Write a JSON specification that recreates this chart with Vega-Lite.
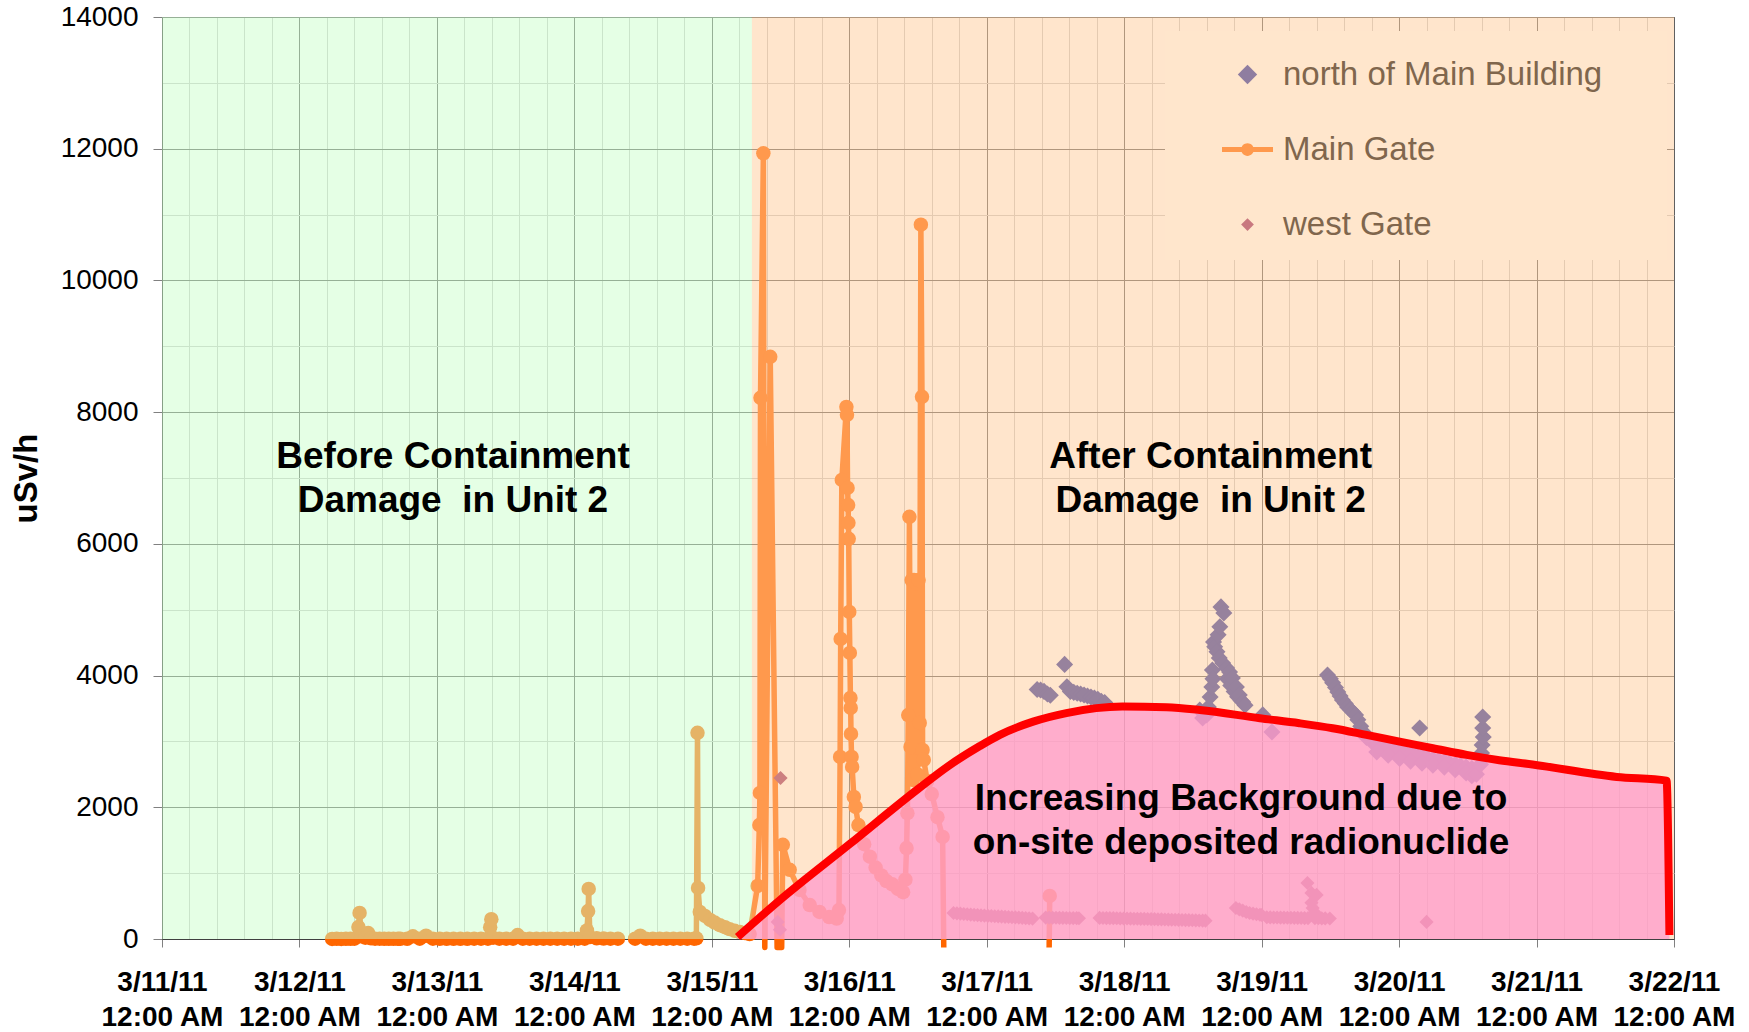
{
  "$schema": "https://vega.github.io/schema/vega-lite/v6.json",
  "width": 1512,
  "height": 922,
  "autosize": {"type": "none"},
  "padding": {"left": 162, "top": 17, "right": 75, "bottom": 93},
  "background": "#ffffff",
  "config": {
    "font": "Liberation Sans",
    "view": {"stroke": "#808080", "strokeWidth": 1},
    "legend": {
      "orient": "none",
      "legendX": 1003,
      "legendY": 14,
      "padding": 18,
      "fillColor": "#ffe6cc",
      "labelFont": "Liberation Sans",
      "labelFontSize": 33,
      "labelColor": "#80664d",
      "labelOffset": 10,
      "rowPadding": 32,
      "symbolOffset": 39,
      "labelLimit": 0,
      "symbolStrokeWidth": 0,
      "symbolOpacity": 1
    }
  },
  "datasets": {
    "readings": [
      {"series": "Main Gate", "seg": "a", "hour": 29.7, "usvh": 1},
      {"series": "Main Gate", "seg": "a", "hour": 30.5, "usvh": 2},
      {"series": "Main Gate", "seg": "a", "hour": 31.3, "usvh": 1},
      {"series": "Main Gate", "seg": "a", "hour": 32.1, "usvh": 3},
      {"series": "Main Gate", "seg": "a", "hour": 32.9, "usvh": 2},
      {"series": "Main Gate", "seg": "a", "hour": 33.6, "usvh": 4},
      {"series": "Main Gate", "seg": "a", "hour": 34.3, "usvh": 182},
      {"series": "Main Gate", "seg": "a", "hour": 34.5, "usvh": 395},
      {"series": "Main Gate", "seg": "a", "hour": 34.8, "usvh": 40},
      {"series": "Main Gate", "seg": "a", "hour": 35.5, "usvh": 20},
      {"series": "Main Gate", "seg": "a", "hour": 36.0, "usvh": 90},
      {"series": "Main Gate", "seg": "a", "hour": 36.5, "usvh": 10},
      {"series": "Main Gate", "seg": "a", "hour": 37.2, "usvh": 5},
      {"series": "Main Gate", "seg": "a", "hour": 38.0, "usvh": 4},
      {"series": "Main Gate", "seg": "a", "hour": 38.8, "usvh": 3},
      {"series": "Main Gate", "seg": "a", "hour": 39.6, "usvh": 3},
      {"series": "Main Gate", "seg": "a", "hour": 40.4, "usvh": 2},
      {"series": "Main Gate", "seg": "a", "hour": 41.2, "usvh": 2},
      {"series": "Main Gate", "seg": "a", "hour": 41.6, "usvh": 2},
      {"series": "Main Gate", "seg": "b", "hour": 42.8, "usvh": 2},
      {"series": "Main Gate", "seg": "b", "hour": 43.8, "usvh": 40},
      {"series": "Main Gate", "seg": "b", "hour": 45.0, "usvh": 4},
      {"series": "Main Gate", "seg": "b", "hour": 46.1, "usvh": 50},
      {"series": "Main Gate", "seg": "b", "hour": 47.3, "usvh": 4},
      {"series": "Main Gate", "seg": "b", "hour": 48.5, "usvh": 3},
      {"series": "Main Gate", "seg": "b", "hour": 49.7, "usvh": 3},
      {"series": "Main Gate", "seg": "b", "hour": 50.9, "usvh": 3},
      {"series": "Main Gate", "seg": "b", "hour": 52.1, "usvh": 3},
      {"series": "Main Gate", "seg": "b", "hour": 53.3, "usvh": 3},
      {"series": "Main Gate", "seg": "b", "hour": 54.5, "usvh": 4},
      {"series": "Main Gate", "seg": "b", "hour": 55.7, "usvh": 4},
      {"series": "Main Gate", "seg": "b", "hour": 56.9, "usvh": 5},
      {"series": "Main Gate", "seg": "b", "hour": 57.3, "usvh": 180},
      {"series": "Main Gate", "seg": "b", "hour": 57.5, "usvh": 300},
      {"series": "Main Gate", "seg": "b", "hour": 57.8, "usvh": 20},
      {"series": "Main Gate", "seg": "b", "hour": 58.9, "usvh": 5},
      {"series": "Main Gate", "seg": "b", "hour": 60.1, "usvh": 5},
      {"series": "Main Gate", "seg": "b", "hour": 61.3, "usvh": 5},
      {"series": "Main Gate", "seg": "b", "hour": 62.1, "usvh": 60},
      {"series": "Main Gate", "seg": "b", "hour": 63.0, "usvh": 5},
      {"series": "Main Gate", "seg": "b", "hour": 64.2, "usvh": 5},
      {"series": "Main Gate", "seg": "b", "hour": 65.4, "usvh": 4},
      {"series": "Main Gate", "seg": "b", "hour": 66.6, "usvh": 4},
      {"series": "Main Gate", "seg": "b", "hour": 67.8, "usvh": 4},
      {"series": "Main Gate", "seg": "b", "hour": 69.0, "usvh": 4},
      {"series": "Main Gate", "seg": "b", "hour": 70.2, "usvh": 4},
      {"series": "Main Gate", "seg": "b", "hour": 71.4, "usvh": 4},
      {"series": "Main Gate", "seg": "b", "hour": 72.6, "usvh": 5},
      {"series": "Main Gate", "seg": "b", "hour": 73.8, "usvh": 5},
      {"series": "Main Gate", "seg": "b", "hour": 74.2, "usvh": 130},
      {"series": "Main Gate", "seg": "b", "hour": 74.4, "usvh": 425},
      {"series": "Main Gate", "seg": "b", "hour": 74.5, "usvh": 760},
      {"series": "Main Gate", "seg": "b", "hour": 74.7, "usvh": 30},
      {"series": "Main Gate", "seg": "b", "hour": 75.9, "usvh": 10},
      {"series": "Main Gate", "seg": "b", "hour": 77.1, "usvh": 6},
      {"series": "Main Gate", "seg": "b", "hour": 78.3, "usvh": 5},
      {"series": "Main Gate", "seg": "b", "hour": 79.6, "usvh": 5},
      {"series": "Main Gate", "seg": "c", "hour": 82.6, "usvh": 4},
      {"series": "Main Gate", "seg": "c", "hour": 83.5, "usvh": 50},
      {"series": "Main Gate", "seg": "c", "hour": 84.5, "usvh": 4},
      {"series": "Main Gate", "seg": "c", "hour": 85.7, "usvh": 4},
      {"series": "Main Gate", "seg": "c", "hour": 86.9, "usvh": 4},
      {"series": "Main Gate", "seg": "d", "hour": 88.1, "usvh": 4},
      {"series": "Main Gate", "seg": "d", "hour": 89.3, "usvh": 4},
      {"series": "Main Gate", "seg": "d", "hour": 90.5, "usvh": 4},
      {"series": "Main Gate", "seg": "d", "hour": 91.7, "usvh": 4},
      {"series": "Main Gate", "seg": "d", "hour": 92.9, "usvh": 5},
      {"series": "Main Gate", "seg": "d", "hour": 93.3, "usvh": 10},
      {"series": "Main Gate", "seg": "d", "hour": 93.5, "usvh": 3130},
      {"series": "Main Gate", "seg": "d", "hour": 93.6, "usvh": 775},
      {"series": "Main Gate", "seg": "d", "hour": 93.9, "usvh": 410},
      {"series": "Main Gate", "seg": "d", "hour": 94.8, "usvh": 350},
      {"series": "Main Gate", "seg": "d", "hour": 95.7, "usvh": 290},
      {"series": "Main Gate", "seg": "d", "hour": 96.5, "usvh": 250},
      {"series": "Main Gate", "seg": "d", "hour": 97.4, "usvh": 210},
      {"series": "Main Gate", "seg": "d", "hour": 98.3, "usvh": 180},
      {"series": "Main Gate", "seg": "d", "hour": 99.1, "usvh": 150},
      {"series": "Main Gate", "seg": "d", "hour": 100.0, "usvh": 125},
      {"series": "Main Gate", "seg": "d", "hour": 100.9, "usvh": 105},
      {"series": "Main Gate", "seg": "d", "hour": 101.8, "usvh": 90},
      {"series": "Main Gate", "seg": "d", "hour": 102.6, "usvh": 75},
      {"series": "Main Gate", "seg": "d", "hour": 104.0, "usvh": 805},
      {"series": "Main Gate", "seg": "d", "hour": 104.3, "usvh": 1730},
      {"series": "Main Gate", "seg": "d", "hour": 104.4, "usvh": 2218},
      {"series": "Main Gate", "seg": "d", "hour": 104.5, "usvh": 8217},
      {"series": "Main Gate", "seg": "d", "hour": 105.0, "usvh": 11930},
      {"series": "Main Gate", "seg": "d", "hour": 105.25, "usvh": -130},
      {"series": "Main Gate", "seg": "d", "hour": 106.2, "usvh": 8841},
      {"series": "Main Gate", "seg": "d", "hour": 107.4, "usvh": -130},
      {"series": "Main Gate", "seg": "d", "hour": 108.2, "usvh": -130},
      {"series": "Main Gate", "seg": "d", "hour": 108.4, "usvh": 1430},
      {"series": "Main Gate", "seg": "d", "hour": 109.6, "usvh": 1050},
      {"series": "Main Gate", "seg": "d", "hour": 111.3, "usvh": 745},
      {"series": "Main Gate", "seg": "d", "hour": 113.1, "usvh": 516},
      {"series": "Main Gate", "seg": "d", "hour": 114.8, "usvh": 410},
      {"series": "Main Gate", "seg": "d", "hour": 116.5, "usvh": 334},
      {"series": "Main Gate", "seg": "d", "hour": 117.8, "usvh": 310},
      {"series": "Main Gate", "seg": "d", "hour": 118.2, "usvh": 440},
      {"series": "Main Gate", "seg": "d", "hour": 118.4, "usvh": 2765},
      {"series": "Main Gate", "seg": "d", "hour": 118.5, "usvh": 4557},
      {"series": "Main Gate", "seg": "d", "hour": 118.7, "usvh": 6970},
      {"series": "Main Gate", "seg": "d", "hour": 119.5, "usvh": 8080},
      {"series": "Main Gate", "seg": "d", "hour": 119.6, "usvh": 7960},
      {"series": "Main Gate", "seg": "d", "hour": 119.7, "usvh": 6850},
      {"series": "Main Gate", "seg": "d", "hour": 119.8, "usvh": 6590},
      {"series": "Main Gate", "seg": "d", "hour": 119.85, "usvh": 6320},
      {"series": "Main Gate", "seg": "d", "hour": 119.9, "usvh": 6076},
      {"series": "Main Gate", "seg": "d", "hour": 120.0, "usvh": 4967},
      {"series": "Main Gate", "seg": "d", "hour": 120.1, "usvh": 4344},
      {"series": "Main Gate", "seg": "d", "hour": 120.2, "usvh": 3660},
      {"series": "Main Gate", "seg": "d", "hour": 120.25, "usvh": 3509},
      {"series": "Main Gate", "seg": "d", "hour": 120.3, "usvh": 3114},
      {"series": "Main Gate", "seg": "d", "hour": 120.4, "usvh": 2765},
      {"series": "Main Gate", "seg": "d", "hour": 120.5, "usvh": 2613},
      {"series": "Main Gate", "seg": "d", "hour": 120.8, "usvh": 2157},
      {"series": "Main Gate", "seg": "d", "hour": 121.1, "usvh": 2005},
      {"series": "Main Gate", "seg": "d", "hour": 121.6, "usvh": 1730},
      {"series": "Main Gate", "seg": "d", "hour": 122.6, "usvh": 1440},
      {"series": "Main Gate", "seg": "d", "hour": 123.6, "usvh": 1250},
      {"series": "Main Gate", "seg": "d", "hour": 124.6, "usvh": 1085},
      {"series": "Main Gate", "seg": "d", "hour": 125.6, "usvh": 965},
      {"series": "Main Gate", "seg": "d", "hour": 126.5, "usvh": 880},
      {"series": "Main Gate", "seg": "d", "hour": 127.5, "usvh": 830},
      {"series": "Main Gate", "seg": "d", "hour": 128.5, "usvh": 760},
      {"series": "Main Gate", "seg": "d", "hour": 129.4, "usvh": 710},
      {"series": "Main Gate", "seg": "d", "hour": 129.8, "usvh": 900},
      {"series": "Main Gate", "seg": "d", "hour": 130.0, "usvh": 1380},
      {"series": "Main Gate", "seg": "d", "hour": 130.15, "usvh": 1910},
      {"series": "Main Gate", "seg": "d", "hour": 130.3, "usvh": 3400},
      {"series": "Main Gate", "seg": "d", "hour": 130.5, "usvh": 6410},
      {"series": "Main Gate", "seg": "d", "hour": 130.7, "usvh": 2917},
      {"series": "Main Gate", "seg": "d", "hour": 130.9, "usvh": 5450},
      {"series": "Main Gate", "seg": "d", "hour": 131.1, "usvh": 2415},
      {"series": "Main Gate", "seg": "d", "hour": 131.3, "usvh": 5450},
      {"series": "Main Gate", "seg": "d", "hour": 131.5, "usvh": 2690},
      {"series": "Main Gate", "seg": "d", "hour": 131.7, "usvh": 5400},
      {"series": "Main Gate", "seg": "d", "hour": 131.9, "usvh": 2500},
      {"series": "Main Gate", "seg": "d", "hour": 132.1, "usvh": 5450},
      {"series": "Main Gate", "seg": "d", "hour": 132.3, "usvh": 3280},
      {"series": "Main Gate", "seg": "d", "hour": 132.5, "usvh": 10846},
      {"series": "Main Gate", "seg": "d", "hour": 132.7, "usvh": 8233},
      {"series": "Main Gate", "seg": "d", "hour": 132.8, "usvh": 2870},
      {"series": "Main Gate", "seg": "d", "hour": 133.0, "usvh": 2720},
      {"series": "Main Gate", "seg": "d", "hour": 133.6, "usvh": 2400},
      {"series": "Main Gate", "seg": "d", "hour": 134.4, "usvh": 2200},
      {"series": "Main Gate", "seg": "d", "hour": 135.4, "usvh": 1850},
      {"series": "Main Gate", "seg": "d", "hour": 136.3, "usvh": 1550},
      {"series": "Main Gate", "seg": "d", "hour": 136.5, "usvh": -130},
      {"series": "Main Gate", "seg": "e", "hour": 154.9, "usvh": -130},
      {"series": "Main Gate", "seg": "e", "hour": 155.0, "usvh": 653},

      {"series": "north of Main Building", "hour": 152.8, "usvh": 3790},
      {"series": "north of Main Building", "hour": 153.4, "usvh": 3780},
      {"series": "north of Main Building", "hour": 154.0, "usvh": 3760},
      {"series": "north of Main Building", "hour": 154.6, "usvh": 3720},
      {"series": "north of Main Building", "hour": 155.1, "usvh": 3700},
      {"series": "north of Main Building", "hour": 157.6, "usvh": 4170},
      {"series": "north of Main Building", "hour": 158.0, "usvh": 3830},
      {"series": "north of Main Building", "hour": 158.6, "usvh": 3760},
      {"series": "north of Main Building", "hour": 159.2, "usvh": 3745},
      {"series": "north of Main Building", "hour": 159.8, "usvh": 3730},
      {"series": "north of Main Building", "hour": 160.4, "usvh": 3720},
      {"series": "north of Main Building", "hour": 161.0, "usvh": 3705},
      {"series": "north of Main Building", "hour": 161.6, "usvh": 3690},
      {"series": "north of Main Building", "hour": 162.2, "usvh": 3675},
      {"series": "north of Main Building", "hour": 162.8, "usvh": 3660},
      {"series": "north of Main Building", "hour": 163.4, "usvh": 3640},
      {"series": "north of Main Building", "hour": 164.0, "usvh": 3610},
      {"series": "north of Main Building", "hour": 164.6, "usvh": 3590},
      {"series": "north of Main Building", "hour": 181.2, "usvh": 3478},
      {"series": "north of Main Building", "hour": 181.7, "usvh": 3357},
      {"series": "north of Main Building", "hour": 182.0, "usvh": 3440},
      {"series": "north of Main Building", "hour": 182.4, "usvh": 3403},
      {"series": "north of Main Building", "hour": 182.7, "usvh": 3524},
      {"series": "north of Main Building", "hour": 183.0, "usvh": 3676},
      {"series": "north of Main Building", "hour": 183.3, "usvh": 3828},
      {"series": "north of Main Building", "hour": 183.4, "usvh": 4086},
      {"series": "north of Main Building", "hour": 183.5, "usvh": 3950},
      {"series": "north of Main Building", "hour": 183.6, "usvh": 4511},
      {"series": "north of Main Building", "hour": 183.8, "usvh": 4436},
      {"series": "north of Main Building", "hour": 184.2, "usvh": 4360},
      {"series": "north of Main Building", "hour": 184.4, "usvh": 4618},
      {"series": "north of Main Building", "hour": 184.7, "usvh": 4740},
      {"series": "north of Main Building", "hour": 184.6, "usvh": 4268},
      {"series": "north of Main Building", "hour": 184.9, "usvh": 5043},
      {"series": "north of Main Building", "hour": 185.2, "usvh": 4192},
      {"series": "north of Main Building", "hour": 185.4, "usvh": 4952},
      {"series": "north of Main Building", "hour": 185.9, "usvh": 4116},
      {"series": "north of Main Building", "hour": 186.0, "usvh": 3950},
      {"series": "north of Main Building", "hour": 186.4, "usvh": 4055},
      {"series": "north of Main Building", "hour": 186.6, "usvh": 3850},
      {"series": "north of Main Building", "hour": 186.9, "usvh": 3964},
      {"series": "north of Main Building", "hour": 187.2, "usvh": 3760},
      {"series": "north of Main Building", "hour": 187.6, "usvh": 3828},
      {"series": "north of Main Building", "hour": 187.8, "usvh": 3680},
      {"series": "north of Main Building", "hour": 188.1, "usvh": 3706},
      {"series": "north of Main Building", "hour": 188.4, "usvh": 3620},
      {"series": "north of Main Building", "hour": 188.7, "usvh": 3600},
      {"series": "north of Main Building", "hour": 189.1, "usvh": 3550},
      {"series": "north of Main Building", "hour": 192.2, "usvh": 3403},
      {"series": "north of Main Building", "hour": 193.8, "usvh": 3144},
      {"series": "north of Main Building", "hour": 203.5, "usvh": 4010},
      {"series": "north of Main Building", "hour": 204.0, "usvh": 3950},
      {"series": "north of Main Building", "hour": 204.4, "usvh": 3890},
      {"series": "north of Main Building", "hour": 204.9, "usvh": 3820},
      {"series": "north of Main Building", "hour": 205.3, "usvh": 3752},
      {"series": "north of Main Building", "hour": 205.7, "usvh": 3690},
      {"series": "north of Main Building", "hour": 206.1, "usvh": 3630},
      {"series": "north of Main Building", "hour": 206.6, "usvh": 3575},
      {"series": "north of Main Building", "hour": 207.0, "usvh": 3524},
      {"series": "north of Main Building", "hour": 207.5, "usvh": 3480},
      {"series": "north of Main Building", "hour": 207.9, "usvh": 3448},
      {"series": "north of Main Building", "hour": 208.4, "usvh": 3403},
      {"series": "north of Main Building", "hour": 208.8, "usvh": 3330},
      {"series": "north of Main Building", "hour": 209.3, "usvh": 3230},
      {"series": "north of Main Building", "hour": 209.8, "usvh": 3140},
      {"series": "north of Main Building", "hour": 210.3, "usvh": 3060},
      {"series": "north of Main Building", "hour": 211.2, "usvh": 3000},
      {"series": "north of Main Building", "hour": 212.1, "usvh": 2960},
      {"series": "north of Main Building", "hour": 213.1, "usvh": 2930},
      {"series": "north of Main Building", "hour": 214.1, "usvh": 2900},
      {"series": "north of Main Building", "hour": 215.1, "usvh": 2870},
      {"series": "north of Main Building", "hour": 216.1, "usvh": 2850},
      {"series": "north of Main Building", "hour": 217.0, "usvh": 2830},
      {"series": "north of Main Building", "hour": 218.0, "usvh": 2810},
      {"series": "north of Main Building", "hour": 219.0, "usvh": 2790},
      {"series": "north of Main Building", "hour": 219.6, "usvh": 3205},
      {"series": "north of Main Building", "hour": 220.0, "usvh": 2770},
      {"series": "north of Main Building", "hour": 220.9, "usvh": 2750},
      {"series": "north of Main Building", "hour": 221.9, "usvh": 2730},
      {"series": "north of Main Building", "hour": 222.9, "usvh": 2710},
      {"series": "north of Main Building", "hour": 223.9, "usvh": 2690},
      {"series": "north of Main Building", "hour": 224.8, "usvh": 2670},
      {"series": "north of Main Building", "hour": 225.8, "usvh": 2650},
      {"series": "north of Main Building", "hour": 226.7, "usvh": 2630},
      {"series": "north of Main Building", "hour": 227.7, "usvh": 2610},
      {"series": "north of Main Building", "hour": 228.7, "usvh": 2590},
      {"series": "north of Main Building", "hour": 212.1, "usvh": 2840},
      {"series": "north of Main Building", "hour": 214.1, "usvh": 2790},
      {"series": "north of Main Building", "hour": 216.1, "usvh": 2740},
      {"series": "north of Main Building", "hour": 218.0, "usvh": 2700},
      {"series": "north of Main Building", "hour": 220.0, "usvh": 2670},
      {"series": "north of Main Building", "hour": 221.9, "usvh": 2640},
      {"series": "north of Main Building", "hour": 223.9, "usvh": 2610},
      {"series": "north of Main Building", "hour": 225.8, "usvh": 2570},
      {"series": "north of Main Building", "hour": 227.7, "usvh": 2520},
      {"series": "north of Main Building", "hour": 228.7, "usvh": 2480},
      {"series": "north of Main Building", "hour": 229.5, "usvh": 2500},
      {"series": "north of Main Building", "hour": 230.2, "usvh": 2650},
      {"series": "north of Main Building", "hour": 230.4, "usvh": 2825},
      {"series": "north of Main Building", "hour": 230.5, "usvh": 2947},
      {"series": "north of Main Building", "hour": 230.7, "usvh": 3068},
      {"series": "north of Main Building", "hour": 230.6, "usvh": 3205},
      {"series": "north of Main Building", "hour": 230.6, "usvh": 3372},

      {"series": "west Gate", "hour": 107.5, "usvh": 260},
      {"series": "west Gate", "hour": 107.9, "usvh": 140},
      {"series": "west Gate", "hour": 108.0, "usvh": 2445},
      {"series": "west Gate", "hour": 138.2, "usvh": 395},
      {"series": "west Gate", "hour": 138.8, "usvh": 390},
      {"series": "west Gate", "hour": 139.4, "usvh": 385},
      {"series": "west Gate", "hour": 140.0, "usvh": 380},
      {"series": "west Gate", "hour": 140.6, "usvh": 375},
      {"series": "west Gate", "hour": 141.2, "usvh": 370},
      {"series": "west Gate", "hour": 141.8, "usvh": 366},
      {"series": "west Gate", "hour": 142.4, "usvh": 362},
      {"series": "west Gate", "hour": 143.0, "usvh": 358},
      {"series": "west Gate", "hour": 143.6, "usvh": 355},
      {"series": "west Gate", "hour": 144.2, "usvh": 352},
      {"series": "west Gate", "hour": 144.8, "usvh": 349},
      {"series": "west Gate", "hour": 145.4, "usvh": 346},
      {"series": "west Gate", "hour": 146.0, "usvh": 343},
      {"series": "west Gate", "hour": 146.6, "usvh": 340},
      {"series": "west Gate", "hour": 147.2, "usvh": 337},
      {"series": "west Gate", "hour": 147.8, "usvh": 334},
      {"series": "west Gate", "hour": 148.4, "usvh": 331},
      {"series": "west Gate", "hour": 149.0, "usvh": 328},
      {"series": "west Gate", "hour": 149.6, "usvh": 325},
      {"series": "west Gate", "hour": 150.2, "usvh": 321},
      {"series": "west Gate", "hour": 150.8, "usvh": 318},
      {"series": "west Gate", "hour": 151.4, "usvh": 314},
      {"series": "west Gate", "hour": 152.0, "usvh": 310},
      {"series": "west Gate", "hour": 154.3, "usvh": 325},
      {"series": "west Gate", "hour": 154.9, "usvh": 324},
      {"series": "west Gate", "hour": 155.5, "usvh": 323},
      {"series": "west Gate", "hour": 156.1, "usvh": 322},
      {"series": "west Gate", "hour": 156.7, "usvh": 321},
      {"series": "west Gate", "hour": 157.3, "usvh": 320},
      {"series": "west Gate", "hour": 157.9, "usvh": 319},
      {"series": "west Gate", "hour": 158.5, "usvh": 318},
      {"series": "west Gate", "hour": 159.1, "usvh": 317},
      {"series": "west Gate", "hour": 159.7, "usvh": 316},
      {"series": "west Gate", "hour": 160.1, "usvh": 315},
      {"series": "west Gate", "hour": 163.7, "usvh": 320},
      {"series": "west Gate", "hour": 164.3, "usvh": 319},
      {"series": "west Gate", "hour": 164.9, "usvh": 318},
      {"series": "west Gate", "hour": 165.5, "usvh": 317},
      {"series": "west Gate", "hour": 166.1, "usvh": 316},
      {"series": "west Gate", "hour": 166.7, "usvh": 315},
      {"series": "west Gate", "hour": 167.3, "usvh": 313},
      {"series": "west Gate", "hour": 167.9, "usvh": 312},
      {"series": "west Gate", "hour": 168.5, "usvh": 311},
      {"series": "west Gate", "hour": 169.1, "usvh": 310},
      {"series": "west Gate", "hour": 169.7, "usvh": 308},
      {"series": "west Gate", "hour": 170.3, "usvh": 307},
      {"series": "west Gate", "hour": 170.9, "usvh": 306},
      {"series": "west Gate", "hour": 171.5, "usvh": 305},
      {"series": "west Gate", "hour": 172.1, "usvh": 303},
      {"series": "west Gate", "hour": 172.7, "usvh": 302},
      {"series": "west Gate", "hour": 173.3, "usvh": 301},
      {"series": "west Gate", "hour": 173.9, "usvh": 299},
      {"series": "west Gate", "hour": 174.5, "usvh": 298},
      {"series": "west Gate", "hour": 175.1, "usvh": 296},
      {"series": "west Gate", "hour": 175.7, "usvh": 295},
      {"series": "west Gate", "hour": 176.3, "usvh": 293},
      {"series": "west Gate", "hour": 176.9, "usvh": 292},
      {"series": "west Gate", "hour": 177.5, "usvh": 290},
      {"series": "west Gate", "hour": 178.1, "usvh": 289},
      {"series": "west Gate", "hour": 178.7, "usvh": 287},
      {"series": "west Gate", "hour": 179.3, "usvh": 286},
      {"series": "west Gate", "hour": 179.9, "usvh": 284},
      {"series": "west Gate", "hour": 180.5, "usvh": 283},
      {"series": "west Gate", "hour": 181.1, "usvh": 281},
      {"series": "west Gate", "hour": 181.7, "usvh": 280},
      {"series": "west Gate", "hour": 182.2, "usvh": 278},
      {"series": "west Gate", "hour": 187.5, "usvh": 470},
      {"series": "west Gate", "hour": 188.1, "usvh": 450},
      {"series": "west Gate", "hour": 188.7, "usvh": 430},
      {"series": "west Gate", "hour": 189.3, "usvh": 410},
      {"series": "west Gate", "hour": 189.9, "usvh": 395},
      {"series": "west Gate", "hour": 190.5, "usvh": 385},
      {"series": "west Gate", "hour": 191.1, "usvh": 375},
      {"series": "west Gate", "hour": 191.7, "usvh": 368},
      {"series": "west Gate", "hour": 192.0, "usvh": 365},
      {"series": "west Gate", "hour": 192.9, "usvh": 330},
      {"series": "west Gate", "hour": 193.5, "usvh": 328},
      {"series": "west Gate", "hour": 194.1, "usvh": 327},
      {"series": "west Gate", "hour": 194.7, "usvh": 326},
      {"series": "west Gate", "hour": 195.3, "usvh": 325},
      {"series": "west Gate", "hour": 195.9, "usvh": 324},
      {"series": "west Gate", "hour": 196.5, "usvh": 323},
      {"series": "west Gate", "hour": 197.1, "usvh": 322},
      {"series": "west Gate", "hour": 197.7, "usvh": 321},
      {"series": "west Gate", "hour": 198.3, "usvh": 320},
      {"series": "west Gate", "hour": 198.9, "usvh": 319},
      {"series": "west Gate", "hour": 199.5, "usvh": 318},
      {"series": "west Gate", "hour": 200.0, "usvh": 850},
      {"series": "west Gate", "hour": 200.1, "usvh": 317},
      {"series": "west Gate", "hour": 200.7, "usvh": 700},
      {"series": "west Gate", "hour": 200.7, "usvh": 550},
      {"series": "west Gate", "hour": 200.9, "usvh": 470},
      {"series": "west Gate", "hour": 201.3, "usvh": 400},
      {"series": "west Gate", "hour": 201.6, "usvh": 670},
      {"series": "west Gate", "hour": 201.3, "usvh": 316},
      {"series": "west Gate", "hour": 201.9, "usvh": 315},
      {"series": "west Gate", "hour": 202.5, "usvh": 314},
      {"series": "west Gate", "hour": 203.1, "usvh": 313},
      {"series": "west Gate", "hour": 203.9, "usvh": 312},
      {"series": "west Gate", "hour": 220.8, "usvh": 260}
    ],
    "zones": [
      {"zone": "before", "hour": 0, "hour_end": 103, "usvh": 0, "usvh_top": 14000},
      {"zone": "after", "hour": 103, "hour_end": 264, "usvh": 0, "usvh_top": 14000}
    ],
    "background": [
      {"hour": 100.5, "usvh": 30},
      {"hour": 107.9, "usvh": 592},
      {"hour": 120.1, "usvh": 1443},
      {"hour": 132.0, "usvh": 2278},
      {"hour": 137.2, "usvh": 2620},
      {"hour": 142.8, "usvh": 2930},
      {"hour": 146.3, "usvh": 3100},
      {"hour": 152.1, "usvh": 3300},
      {"hour": 157.9, "usvh": 3430},
      {"hour": 167.7, "usvh": 3529},
      {"hour": 175.4, "usvh": 3519},
      {"hour": 181.2, "usvh": 3478},
      {"hour": 191.7, "usvh": 3352},
      {"hour": 198.6, "usvh": 3276},
      {"hour": 204.4, "usvh": 3200},
      {"hour": 210.3, "usvh": 3099},
      {"hour": 216.1, "usvh": 2997},
      {"hour": 221.9, "usvh": 2897},
      {"hour": 227.8, "usvh": 2795},
      {"hour": 233.5, "usvh": 2715},
      {"hour": 239.3, "usvh": 2650},
      {"hour": 254.0, "usvh": 2461},
      {"hour": 262.7, "usvh": 2405},
      {"hour": 263.2, "usvh": 60}
    ],
    "notes": [
      {"note": "Before Containment\nDamage\u00a0 in Unit 2", "hour": 50.8, "usvh": 7322},
      {"note": "After Containment\nDamage\u00a0 in Unit 2", "hour": 183.1, "usvh": 7322},
      {"note": "Increasing Background due to\non-site deposited radionuclide", "hour": 188.4, "usvh": 2133}
    ]
  },
  "encoding": {
    "x": {
      "field": "hour",
      "type": "quantitative",
      "scale": {"domain": [0, 264], "nice": false, "zero": false},
      "axis": {
        "title": null,
        "values": [0, 4.8, 9.6, 14.4, 19.2, 24, 28.8, 33.6, 38.4, 43.2, 48, 52.8, 57.6, 62.4, 67.2, 72, 76.8, 81.6, 86.4, 91.2, 96, 100.8, 105.6, 110.4, 115.2, 120, 124.8, 129.6, 134.4, 139.2, 144, 148.8, 153.6, 158.4, 163.2, 168, 172.8, 177.6, 182.4, 187.2, 192, 196.8, 201.6, 206.4, 211.2, 216, 220.8, 225.6, 230.4, 235.2, 240, 244.8, 249.6, 254.4, 259.2, 264],
        "grid": true,
        "gridColor": {"condition": {"test": "datum.value % 24 === 0", "value": "#606060"}, "value": "#c8c8c8"},
        "gridWidth": 1,
        "domainColor": "#404040",
        "tickColor": {"condition": {"test": "datum.value % 24 === 0", "value": "#808080"}, "value": "transparent"},
        "tickSize": 8,
        "labelExpr": "datum.value % 24 === 0 ? ['3/' + (11 + datum.value / 24) + '/11', '12:00 AM'] : ''",
        "labelFont": "Liberation Sans",
        "labelFontSize": 28,
        "labelFontWeight": "bold",
        "labelColor": "#000000",
        "labelLineHeight": 35,
        "labelPadding": 21,
        "labelBaseline": "top",
        "labelOverlap": false,
        "labelFlush": false,
        "labelAngle": 0
      }
    },
    "y": {
      "field": "usvh",
      "type": "quantitative",
      "scale": {"domain": [0, 14000], "nice": false, "zero": false},
      "axis": {
        "title": "uSv/h",
        "titleFont": "Liberation Sans",
        "titleFontSize": 33,
        "titleFontWeight": "bold",
        "titleColor": "#000000",
        "titlePadding": 17,
        "values": [0, 1000, 2000, 3000, 4000, 5000, 6000, 7000, 8000, 9000, 10000, 11000, 12000, 13000, 14000],
        "grid": true,
        "gridColor": {"condition": {"test": "datum.value % 2000 === 0", "value": "#606060"}, "value": "#c8c8c8"},
        "gridWidth": 1,
        "domainColor": "#404040",
        "tickColor": {"condition": {"test": "datum.value % 2000 === 0", "value": "#808080"}, "value": "transparent"},
        "tickSize": 9,
        "labelExpr": "datum.value % 2000 === 0 ? format(datum.value, 'd') : ''",
        "labelFont": "Liberation Sans",
        "labelFontSize": 28,
        "labelColor": "#000000",
        "labelPadding": 15,
        "labelOverlap": false,
        "labelFlush": false
      }
    }
  },
  "layer": [
    {
      "data": {"name": "readings"},
      "transform": [{"filter": "datum.series === 'Main Gate'"}],
      "mark": {"type": "line", "color": "#ff6600", "strokeWidth": 5.5, "strokeJoin": "round"},
      "encoding": {"detail": {"field": "seg", "type": "nominal"}}
    },
    {
      "data": {"name": "readings"},
      "transform": [{"filter": "datum.series === 'Main Gate' && datum.usvh >= 0"}],
      "mark": {"type": "point", "shape": "circle", "filled": true, "size": 210, "color": "#ff6600", "opacity": 1}
    },
    {
      "data": {"name": "readings"},
      "transform": [{"filter": "datum.series === 'north of Main Building'"}],
      "mark": {"type": "point", "shape": "diamond", "filled": true, "size": 290, "color": "#2e38a0", "opacity": 1}
    },
    {
      "data": {"name": "readings"},
      "transform": [{"filter": "datum.series === 'west Gate'"}],
      "mark": {"type": "point", "shape": "diamond", "filled": true, "size": 200, "color": "#993366", "opacity": 1}
    },
    {
      "data": {"name": "zones"},
      "mark": {"type": "rect", "opacity": 0.5},
      "encoding": {
        "x2": {"field": "hour_end"},
        "y2": {"field": "usvh_top"},
        "fill": {"field": "zone", "type": "nominal", "scale": {"domain": ["before", "after"], "range": ["#ccffcc", "#ffcc99"]}, "legend": null}
      }
    },
    {
      "data": {"name": "background"},
      "mark": {"type": "area", "color": "#ff99cc", "opacity": 0.75, "interpolate": "monotone"}
    },
    {
      "data": {"name": "background"},
      "mark": {"type": "line", "color": "#ff0000", "strokeWidth": 8, "interpolate": "monotone", "strokeJoin": "round"}
    },
    {
      "data": {"name": "notes"},
      "mark": {"type": "text", "font": "Liberation Sans", "fontSize": 37, "fontWeight": "bold", "color": "#000000", "align": "center", "baseline": "middle", "lineBreak": "\n", "lineHeight": 44},
      "encoding": {"text": {"field": "note", "type": "nominal"}}
    },
    {
      "data": {"name": "readings"},
      "transform": [{"filter": "datum.series === 'none'"}],
      "mark": {"type": "point", "filled": true, "opacity": 1},
      "encoding": {
        "color": {"field": "series", "type": "nominal", "scale": {"domain": ["north of Main Building", "Main Gate", "west Gate"], "range": ["#8f7da0", "#ff994d", "#c8787f"]}, "legend": {"title": null, "labelExpr": "datum.label + '\u00a0\u00a0\u00a0\u00a0\u00a0\u200b'"}},
        "shape": {"field": "series", "type": "nominal", "scale": {"domain": ["north of Main Building", "Main Gate", "west Gate"], "range": ["M-0.38,0L0,-0.38L0.38,0L0,0.38Z", "M-1,-0.1L1,-0.1L1,0.1L-1,0.1Z M0.25,0A0.25,0.25,0,1,1,-0.25,0A0.25,0.25,0,1,1,0.25,0Z", "M-0.25,0L0,-0.25L0.25,0L0,0.25Z"]}, "legend": {"title": null, "labelExpr": "datum.label + '\u00a0\u00a0\u00a0\u00a0\u00a0\u200b'"}},
        "size": {"field": "series", "type": "nominal", "scale": {"type": "ordinal", "domain": ["north of Main Building", "Main Gate", "west Gate"], "range": [2601, 2601, 2601]}, "legend": {"title": null, "labelExpr": "datum.label + '\u00a0\u00a0\u00a0\u00a0\u00a0\u200b'"}}
      }
    }
  ]
}
